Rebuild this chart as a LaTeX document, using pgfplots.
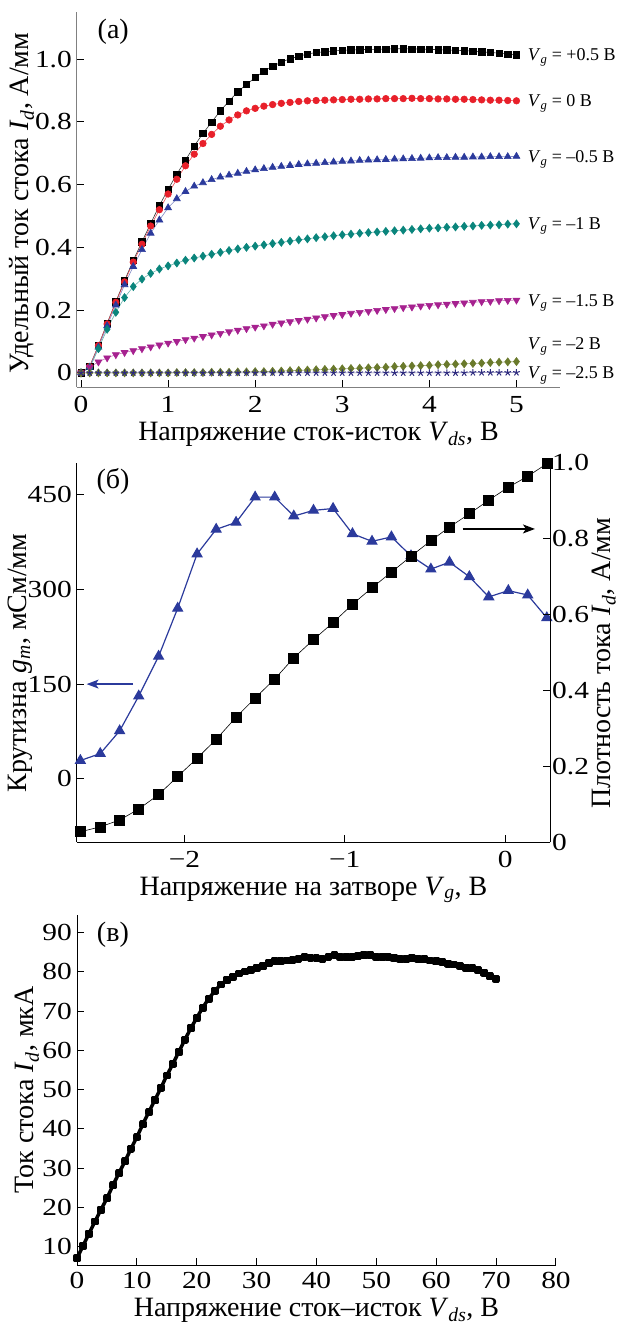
\documentclass[border=0pt]{standalone}
\usepackage{fontspec}
\setmainfont{Liberation Serif}
\newfontfamily\tickfont{Liberation Serif}[FakeStretch=1.2]
\usepackage{pgfplots}
\pgfplotsset{compat=1.18}
\usepackage{pgfplotstable}
\usetikzlibrary{arrows.meta}

\definecolor{cred}{HTML}{E8202A}
\definecolor{cblue}{HTML}{2B3A9C}
\definecolor{cteal}{HTML}{0A857C}
\definecolor{cmag}{HTML}{A6218F}
\definecolor{colive}{HTML}{6A7A2C}
\definecolor{cnavy}{HTML}{2D2A7E}

\newcommand{\vv}[2]{\textit{#1}\textsubscript{\textit{#2}}}
\tikzset{vgl/.style={font=\fontsize{18}{20}\selectfont, anchor=base west}}

% (a) output curves, x = V_ds; a..g = V_g +0.5, 0, -0.5, -1, -1.5, -2, -2.5
\pgfplotstableread{
x a b c d e f g
0.0 0.000 0.000 0.000 0.000 0.000 0.000 0.000
0.1 0.021 0.020 0.018 0.016 0.018 0.000 0.000
0.2 0.087 0.087 0.082 0.077 0.035 0.000 0.000
0.3 0.158 0.156 0.150 0.139 0.048 0.000 0.000
0.4 0.227 0.225 0.216 0.193 0.058 0.000 0.000
0.5 0.294 0.290 0.281 0.240 0.065 0.000 0.000
0.6 0.358 0.353 0.339 0.275 0.071 0.000 0.000
0.7 0.418 0.410 0.393 0.299 0.077 0.000 0.000
0.8 0.476 0.468 0.445 0.317 0.083 0.000 0.000
0.9 0.533 0.520 0.487 0.331 0.089 0.000 0.000
1.0 0.585 0.570 0.526 0.341 0.095 0.000 0.000
1.1 0.633 0.617 0.555 0.350 0.100 0.001 0.000
1.2 0.678 0.660 0.578 0.359 0.106 0.001 0.000
1.3 0.723 0.697 0.595 0.366 0.111 0.001 0.000
1.4 0.763 0.731 0.606 0.372 0.116 0.001 0.000
1.5 0.799 0.760 0.616 0.378 0.121 0.002 0.000
1.6 0.835 0.786 0.624 0.384 0.126 0.002 0.000
1.7 0.866 0.806 0.630 0.390 0.131 0.002 0.000
1.8 0.896 0.822 0.636 0.395 0.136 0.003 0.000
1.9 0.919 0.835 0.642 0.400 0.141 0.003 0.000
2.0 0.941 0.843 0.647 0.404 0.146 0.004 0.000
2.1 0.962 0.850 0.651 0.408 0.150 0.004 0.000
2.2 0.977 0.855 0.655 0.412 0.155 0.005 0.000
2.3 0.990 0.859 0.658 0.416 0.159 0.006 0.000
2.4 1.001 0.862 0.661 0.420 0.163 0.007 0.000
2.5 1.009 0.865 0.664 0.424 0.167 0.008 0.000
2.6 1.016 0.867 0.666 0.427 0.171 0.009 0.000
2.7 1.021 0.868 0.668 0.431 0.175 0.010 0.000
2.8 1.023 0.869 0.670 0.434 0.179 0.011 0.000
2.9 1.026 0.870 0.672 0.437 0.183 0.012 0.000
3.0 1.028 0.871 0.674 0.440 0.186 0.013 0.000
3.1 1.029 0.872 0.675 0.442 0.190 0.014 0.000
3.2 1.030 0.872 0.677 0.445 0.193 0.015 0.000
3.3 1.031 0.873 0.678 0.447 0.196 0.016 0.000
3.4 1.031 0.873 0.679 0.449 0.199 0.017 0.000
3.5 1.032 0.874 0.680 0.451 0.202 0.018 0.000
3.6 1.033 0.874 0.681 0.453 0.205 0.020 0.000
3.7 1.033 0.874 0.682 0.455 0.208 0.021 0.000
3.8 1.032 0.875 0.683 0.457 0.210 0.022 0.000
3.9 1.032 0.874 0.684 0.459 0.213 0.023 0.000
4.0 1.031 0.874 0.685 0.461 0.215 0.024 0.000
4.1 1.030 0.873 0.686 0.462 0.217 0.026 0.000
4.2 1.029 0.873 0.686 0.464 0.219 0.027 0.000
4.3 1.028 0.872 0.687 0.465 0.221 0.028 0.000
4.4 1.027 0.872 0.687 0.467 0.223 0.029 0.000
4.5 1.025 0.871 0.688 0.468 0.225 0.030 0.001
4.6 1.023 0.870 0.688 0.470 0.227 0.031 0.001
4.7 1.021 0.869 0.689 0.471 0.228 0.033 0.001
4.8 1.019 0.869 0.689 0.472 0.230 0.034 0.001
4.9 1.016 0.868 0.689 0.474 0.231 0.035 0.001
5.0 1.013 0.867 0.690 0.475 0.232 0.036 0.001
}\outtab

% (b) transfer: gm (left axis) and Id (right axis) vs V_g
\pgfplotstableread{
vg gm id
-2.649 29 0.027
-2.525 40 0.040
-2.404 76 0.058
-2.285 131 0.087
-2.161 194 0.125
-2.042 270 0.173
-1.921 356 0.221
-1.802 395 0.271
-1.678 406 0.329
-1.559 446 0.380
-1.437 446 0.430
-1.318 416 0.486
-1.195 425 0.534
-1.073 428 0.579
-0.952 388 0.627
-0.830 376 0.671
-0.709 383 0.712
-0.587 353 0.754
-0.463 332 0.795
-0.347 343 0.831
-0.223 320 0.866
-0.102 288 0.902
0.020 298 0.936
0.141 291 0.965
0.260 255 0.998
}\transtab

% (c) high-voltage output curve, Id in uA
\pgfplotstableread{
v i
0 7.0
1 10.2
2 13.3
3 16.4
4 19.4
5 22.3
6 25.6
7 28.7
8 31.7
9 34.9
10 37.9
11 41.2
12 44.3
13 47.3
14 50.4
15 53.6
16 56.5
17 59.6
18 62.7
19 65.6
20 68.3
21 70.9
22 73.2
23 75.1
24 76.8
25 77.9
26 78.8
27 79.6
28 80.1
29 80.6
30 81.0
31 81.4
32 82.2
33 82.7
34 82.8
35 82.9
36 83.1
37 83.2
38 83.7
39 83.5
40 83.6
41 83.4
42 83.7
43 84.2
44 83.9
45 83.8
46 83.7
47 84.0
48 84.4
49 84.3
50 83.9
51 83.8
52 83.9
53 83.5
54 83.4
55 83.3
56 83.6
57 83.4
58 83.2
59 82.9
60 82.7
61 82.5
62 82.0
63 81.9
64 81.6
65 81.0
66 80.9
67 80.5
68 79.7
69 78.9
70 78.3
}\hvtab

\begin{document}
\begin{tikzpicture}
\path[use as bounding box] (0pt,0pt) rectangle (619pt,-1323pt);
\pgfplotsset{
  every axis/.append style={
    scale only axis, clip=false,
    font=\fontsize{28}{32}\selectfont,
    tick label style={font=\tickfont\fontsize{24.5}{28}\selectfont},
    /pgf/number format/assume math mode=true,
    tick style={black, line width=1pt}, major tick length=7pt,
    axis line style={line width=1pt},
    xticklabel style={anchor=base, inner sep=0pt, yshift=-25pt},
    yticklabel style={inner sep=0pt, xshift=-5pt},
    xlabel style={at={(axis description cs:0.5,0)}, anchor=base, inner sep=0pt, yshift=-53pt},
  },
}

% ---------- (a) ----------
\begin{axis}[at={(77pt,-387pt)}, anchor=south west, width=483pt, height=375pt,
  xmin=-0.046, xmax=5.5, ymin=-0.045, ymax=1.15,
  axis lines*=left, axis line style={gray},
  xtick={0,1,2,3,4,5},
  ytick={0,0.2,0.4,0.6,0.8,1}, yticklabels={0,0.2,0.4,0.6,0.8,1.0},
  xlabel={Напряжение сток-исток \vv{V}{ds}, В},
  ylabel={Удельный ток стока \vv{I}{d}, А/мм},
  ylabel style={at={(axis description cs:-0.114,0.491)}, anchor=center},
]
\addplot[black!80, line width=0.6pt, mark=square*, mark size=3.2pt, mark options={black}] table[x=x,y=a]{\outtab};
\addplot[cred!80, line width=0.6pt, mark=*, mark size=3.3pt, mark options={cred}] table[x=x,y=b]{\outtab};
\addplot[cblue!60, line width=0.6pt, mark=triangle*, mark size=4pt, mark options={cblue}] table[x=x,y=c]{\outtab};
\addplot[cteal!60, line width=0.6pt, mark=diamond*, mark size=4pt, mark options={cteal}] table[x=x,y=d]{\outtab};
\addplot[cmag!60, line width=0.6pt, mark=triangle*, mark size=4pt, mark options={cmag, rotate=180}] table[x=x,y=e]{\outtab};
\addplot[colive!60, line width=0.6pt, mark=diamond*, mark size=4pt, mark options={colive}] table[x=x,y=f]{\outtab};
\addplot[cnavy!60, line width=0.6pt, mark=star, mark size=3.5pt, mark options={cnavy, line width=1pt}] table[x=x,y=g]{\outtab};
\node[vgl] at (axis cs:5.09,0.995) {\vv{V}{g} = +0.5 В};
\node[vgl] at (axis cs:5.09,0.848) {\vv{V}{g} = 0 В};
\node[vgl] at (axis cs:5.09,0.670) {\vv{V}{g} = –0.5 В};
\node[vgl] at (axis cs:5.09,0.458) {\vv{V}{g} = –1 В};
\node[vgl] at (axis cs:5.09,0.212) {\vv{V}{g} = –1.5 В};
\node[vgl] at (axis cs:5.09,0.074) {\vv{V}{g} = –2 В};
\node[vgl] at (axis cs:5.09,-0.019) {\vv{V}{g} = –2.5 В};
\node at (axis cs:0.37,1.088) {(а)};
\end{axis}

% ---------- (b) left: transconductance ----------
\begin{axis}[at={(77pt,-842pt)}, anchor=south west, width=473pt, height=379pt,
  xmin=-2.67, xmax=0.28, ymin=-100, ymax=500,
  axis x line*=bottom, axis y line*=left,
  xtick={-2,-1,0}, xticklabels={−2,−1,0},
  ytick={0,150,300,450},
  xlabel={Напряжение на затворе \vv{V}{g}, В},
  ylabel={Крутизна \vv{g}{m}, мСм/мм},
  ylabel style={at={(axis description cs:-0.12,0.472)}, anchor=center},
]
\addplot[cblue, line width=1.2pt, mark=triangle*, mark size=5.5pt] table[x=vg,y=gm]{\transtab};
\draw[cblue, line width=1.2pt, -{Stealth[length=12pt,width=9pt,inset=3pt]}] (axis cs:-2.32,150) -- (axis cs:-2.61,150);
\node at (axis cs:-2.445,471) {(б)};
\end{axis}

% ---------- (b) right: drain current density ----------
\begin{axis}[at={(77pt,-842pt)}, anchor=south west, width=473pt, height=379pt,
  xmin=-2.67, xmax=0.28, ymin=0, ymax=1,
  axis x line=none, axis y line*=right,
  ytick={0,0.2,0.4,0.6,0.8,1}, yticklabels={0,0.2,0.4,0.6,0.8,1.0},
  yticklabel style={inner sep=0pt, xshift=7pt},
  ylabel={Плотность тока \vv{I}{d}, А/мм},
  ylabel style={at={(axis description cs:1.114,0.472)}, anchor=center},
]
\addplot[black, line width=0.6pt, mark=square*, mark size=5pt] table[x=vg,y=id]{\transtab};
\draw[black, line width=1.2pt, -{Stealth[length=12pt,width=9pt,inset=3pt]}] (axis cs:-0.265,0.826) -- (axis cs:0.186,0.826);
\end{axis}

% ---------- (c) ----------
\begin{axis}[at={(77pt,-1265pt)}, anchor=south west, width=479pt, height=350pt,
  xmin=0, xmax=80, ymin=5.3, ymax=94.5,
  axis lines*=left,
  xtick={0,10,...,80}, ytick={10,20,...,90},
  xticklabel style={yshift=2pt},
  xlabel={Напряжение сток–исток \vv{V}{ds}, В},
  xlabel style={yshift=2pt},
  ylabel={Ток стока \vv{I}{d}, мкА},
  ylabel style={at={(axis description cs:-0.104,0.501)}, anchor=center},
]
\addplot[black, line width=3.5pt, line join=round, mark=square*, mark size=2.2pt] table[x=v,y=i]{\hvtab};
\node at (axis cs:6,89.5) {(в)};
\end{axis}
\end{tikzpicture}
\end{document}
